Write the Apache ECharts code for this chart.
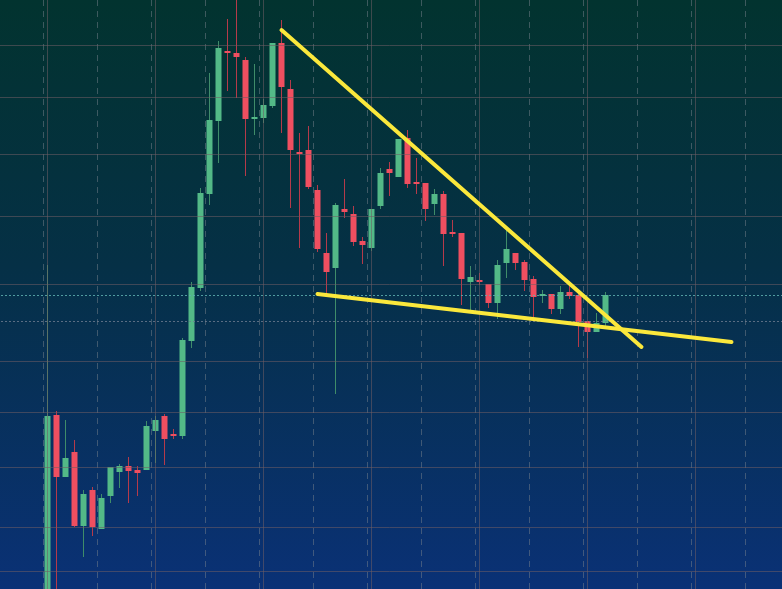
<!DOCTYPE html>
<html>
<head>
<meta charset="utf-8">
<script src="https://cdn.jsdelivr.net/npm/echarts/dist/echarts.min.js"></script>
<style>
html,body{margin:0;padding:0;width:782px;height:589px;overflow:hidden;position:relative;
background:linear-gradient(to bottom,#02332f 0%,#053046 45%,#0a3176 100%);}
#c{position:absolute;left:-11px;top:0;width:801px;height:589px;}
</style>
</head>
<body>
<div id="c"></div>
<script>
// Candle values (price units)
const openV  = [0,174,112,137,63,99,60,93,117,123,119,119,158,173,155,153,248,301,395,468,538,536,529,470,471,483,546,500,437,439,399,336,321,380,375,348,341,383,420,412,451,407,406,385,395,357,356,307,309,305,286,326,336,327,310,293,295,280,297,294,268,257,266];
const closeV = [173,112,131,63,95,62,91,122,123,118,116,163,169,150,153,249,302,396,469,541,536,532,470,472,484,546,502,439,435,402,340,317,384,377,347,344,380,416,416,450,405,405,380,395,355,355,310,312,307,286,324,340,326,309,292,295,280,297,293,267,257,266,294];
const lowV   = [0,0,112,62,32,53,60,86,101,86,93,119,126,124,150,150,241,298,384,426,498,491,413,454,466,481,456,381,341,400,337,293,195,371,343,325,338,380,393,412,401,395,368,374,323,352,284,279,304,281,270,311,319,298,272,286,275,275,290,242,231,257,262];
const highV  = [324,178,169,149,99,102,95,122,125,132,123,168,173,175,160,251,307,401,516,548,570,589,532,525,490,546,569,509,456,463,404,356,386,410,383,352,380,421,427,450,459,431,406,400,398,369,356,323,316,305,329,359,336,329,313,299,295,303,305,298,268,276,297];

// Reference levels
const gridLevels   = [544, 492, 435, 373, 305, 228, 177, 122, 62, 18];
const majorCandles = [0, 12, 24, 36, 48, 60, 72];
const dottedLevels = [294, 268];
// trend lines: [candleIndex, price] pairs
const upperTrend = [[26, 559], [66, 242]];
const lowerTrend = [[30, 295], [76, 247]];

const leadPad = 6, trailPad = 20;
const nCats = leadPad + openV.length + trailPad;
const categories = Array.from({length: nCats}, (_, i) => String(i));
const candleData = openV.map((o, i) => [i + leadPad, o, closeV[i], lowV[i], highV[i]]);

const gridLineColor = 'rgba(112,92,100,0.55)';
const chart = echarts.init(document.getElementById('c'), null, {renderer: 'canvas'});

const gridMarks = [];
gridLevels.forEach(v => gridMarks.push({yAxis: v}));
majorCandles.forEach(i => gridMarks.push({xAxis: i + leadPad}));
gridMarks.push({yAxis: dottedLevels[0], lineStyle: {color: 'rgba(95,175,175,0.85)', type: [2, 2], width: 1}});
gridMarks.push({yAxis: dottedLevels[1], lineStyle: {color: 'rgba(110,125,145,0.8)', type: [2, 2], width: 1}});

const trendCoord = (pts) => pts.map(p => ({coord: [p[0] + leadPad, p[1]]}));

chart.setOption({
  animation: false,
  backgroundColor: 'transparent',
  grid: {left: 0, top: 0, width: nCats * 9, height: 589, containLabel: false},
  xAxis: {
    type: 'category', data: categories, boundaryGap: true,
    axisLine: {show: false}, axisTick: {show: false}, axisLabel: {show: false},
    splitLine: {show: true, interval: 5, lineStyle: {color: 'rgba(120,130,140,0.5)', type: [6, 5], width: 1}}
  },
  yAxis: {
    type: 'value', min: 0, max: 589, scale: false,
    axisLine: {show: false}, axisTick: {show: false}, axisLabel: {show: false},
    splitLine: {show: false}
  },
  series: [
    {
      type: 'line', data: [], z: 1, silent: true,
      markLine: {
        silent: true, animation: false, symbol: ['none', 'none'],
        label: {show: false},
        lineStyle: {color: gridLineColor, type: 'solid', width: 1},
        emphasis: {disabled: true},
        data: gridMarks
      }
    },
    {
      type: 'candlestick', name: 'wick', z: 3, silent: true,
      data: candleData, encode: {x: 0, y: [1, 2, 3, 4]},
      barWidth: 1,
      itemStyle: {color: 'rgba(0,0,0,0)', color0: 'rgba(0,0,0,0)', borderColor: '#3f8c69', borderColor0: '#b53a4a', borderWidth: 1},
      emphasis: {disabled: true}
    },
    {
      type: 'candlestick', name: 'body', z: 4, silent: true,
      data: candleData, encode: {x: 0, y: [1, 2, 3, 4]},
      barWidth: 7,
      itemStyle: {color: '#53b987', color0: '#ef4f60', borderColor: 'rgba(0,0,0,0)', borderColor0: 'rgba(0,0,0,0)', borderWidth: 0},
      emphasis: {disabled: true}
    },
    {
      type: 'line', data: [], z: 6, silent: true,
      markLine: {
        silent: true, animation: false, symbol: ['none', 'none'],
        label: {show: false},
        emphasis: {disabled: true},
        lineStyle: {color: '#fbe83c', width: 4, type: 'solid', cap: 'round'},
        data: [trendCoord(upperTrend), trendCoord(lowerTrend)]
      }
    }
  ]
});
</script>
</body>
</html>
